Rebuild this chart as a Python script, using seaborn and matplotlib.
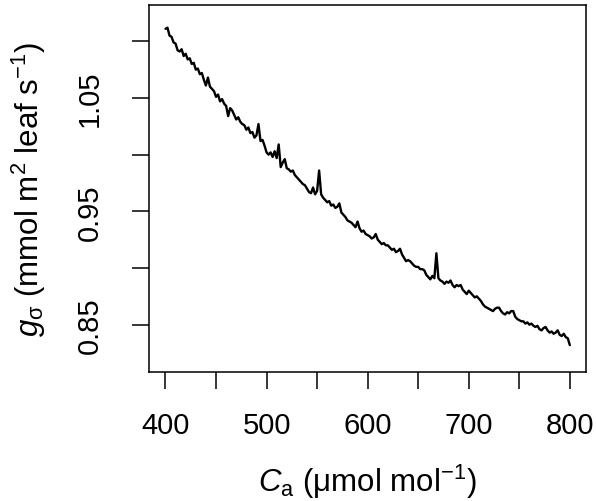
import numpy as np
import pandas as pd
import matplotlib
matplotlib.use("Agg")
import matplotlib.pyplot as plt
import seaborn as sns

# Ambient CO2 (every 2 umol/mol) and conductance
ca = list(range(400, 801, 2))
g_sigma = [
    1.111, 1.112, 1.105, 1.104, 1.099, 1.098, 1.092, 1.091, 1.093, 1.087,
    1.089, 1.084, 1.085, 1.080, 1.081, 1.075, 1.076, 1.071, 1.072, 1.066,
    1.061, 1.068, 1.060, 1.058, 1.056, 1.051, 1.053, 1.047, 1.049, 1.045,
    1.043, 1.034, 1.041, 1.039, 1.035, 1.031, 1.033, 1.029, 1.027, 1.026,
    1.022, 1.024, 1.019, 1.020, 1.015, 1.017, 1.027, 1.012, 1.013, 1.008,
    1.002, 1.000, 1.002, 0.998, 1.003, 0.997, 1.009, 0.989, 0.993, 0.996,
    0.988, 0.987, 0.985, 0.986, 0.982, 0.980, 0.978, 0.976, 0.974, 0.973,
    0.970, 0.967, 0.966, 0.971, 0.965, 0.968, 0.986, 0.965, 0.962, 0.960,
    0.958, 0.959, 0.955, 0.956, 0.953, 0.954, 0.957, 0.949, 0.947, 0.945,
    0.942, 0.941, 0.940, 0.938, 0.936, 0.941, 0.935, 0.932, 0.933, 0.930,
    0.929, 0.928, 0.926, 0.927, 0.930, 0.925, 0.923, 0.921, 0.922, 0.920,
    0.920, 0.918, 0.916, 0.917, 0.914, 0.915, 0.917, 0.912, 0.909, 0.906,
    0.907, 0.906, 0.904, 0.902, 0.901, 0.901, 0.899, 0.899, 0.898, 0.894,
    0.892, 0.890, 0.893, 0.891, 0.913, 0.891, 0.889, 0.888, 0.886, 0.888,
    0.887, 0.889, 0.885, 0.883, 0.885, 0.884, 0.885, 0.881, 0.879, 0.877,
    0.880, 0.878, 0.876, 0.874, 0.875, 0.873, 0.871, 0.868, 0.866, 0.865,
    0.864, 0.863, 0.862, 0.864, 0.865, 0.865, 0.862, 0.860, 0.859, 0.861,
    0.860, 0.862, 0.862, 0.857, 0.855, 0.854, 0.853, 0.853, 0.851, 0.852,
    0.850, 0.851, 0.849, 0.848, 0.849, 0.846, 0.845, 0.847, 0.848, 0.845,
    0.843, 0.844, 0.842, 0.843, 0.845, 0.841, 0.840, 0.842, 0.839, 0.838,
    0.832,
]

x_ticks = [400, 450, 500, 550, 600, 650, 700, 750, 800]
x_labels = ["400", "", "500", "", "600", "", "700", "", "800"]
y_ticks = [0.85, 0.90, 0.95, 1.00, 1.05, 1.10]
y_labels = ["0.85", "", "0.95", "", "1.05", ""]

df = pd.DataFrame({"ca": ca, "g": g_sigma})

sns.set_style("white")
plt.rcParams["font.family"] = ["Liberation Sans", "DejaVu Sans"]
plt.rcParams["mathtext.fontset"] = "custom"
plt.rcParams["mathtext.rm"] = "Liberation Sans"
plt.rcParams["mathtext.it"] = "Liberation Sans:italic"
plt.rcParams["text.color"] = "black"
plt.rcParams["axes.labelcolor"] = "black"
plt.rcParams["xtick.color"] = "black"
plt.rcParams["ytick.color"] = "black"

fig = plt.figure(figsize=(5.96, 5.02), dpi=100)
ax = fig.add_axes([0.2505, 0.2564, 0.7327, 0.7316])

sns.lineplot(data=df, x="ca", y="g", color="black", linewidth=1.7,
             estimator=None, ax=ax)

ax.set_xlim(384, 816)
ax.set_ylim(0.808, 1.132)

ax.set_xticks(x_ticks)
ax.set_xticklabels(x_labels, fontsize=21)
ax.set_yticks(y_ticks)
ax.set_yticklabels(y_labels, fontsize=21, rotation=90, va="center")

ax.tick_params(axis="both", direction="out", length=12, width=1.1,
               color="black", labelcolor="black", bottom=True, left=True)
ax.tick_params(axis="x", pad=16)
ax.tick_params(axis="y", pad=21)

for s in ax.spines.values():
    s.set_color("black")
    s.set_linewidth(1.1)

ax.set_xlabel(r"$C_\mathrm{a}$ (μmol mol$^{-1}$)", fontsize=22.5, va="center")
ax.set_ylabel(r"$g_\mathrm{σ}$ (mmol m$^2$ leaf s$^{-1}$)", fontsize=22.5, va="center")
ax.xaxis.set_label_coords(0.5, -0.296)
ax.yaxis.set_label_coords(-0.275, 0.5)

plt.savefig("out.png", dpi=100)
